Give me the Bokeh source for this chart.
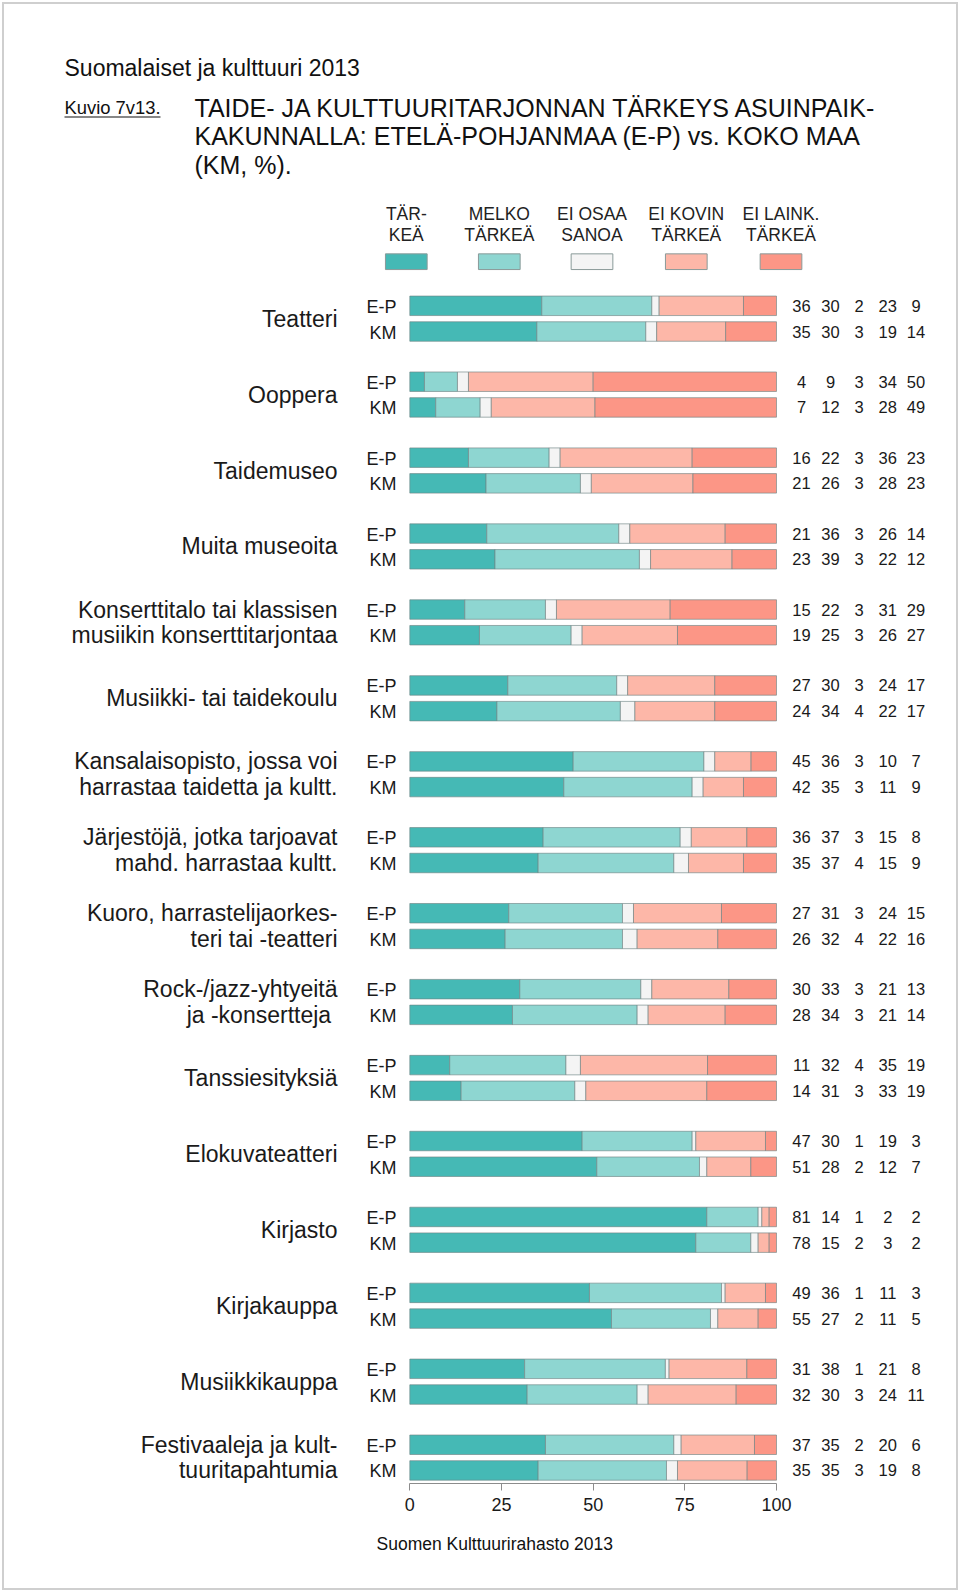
from bokeh.plotting import figure
from bokeh.models import ColumnDataSource, Range1d, FixedTicker, Title, InlineStyleSheet
from bokeh.core.properties import value
from bokeh.embed import file_html
from bokeh.resources import INLINE

# ---------------- data ----------------
groups = [
    "Teatteri", "Ooppera", "Taidemuseo", "Muita museoita",
    "Konserttitalo tai klassisen\nmusiikin konserttitarjontaa",
    "Musiikki- tai taidekoulu",
    "Kansalaisopisto, jossa voi\nharrastaa taidetta ja kultt.",
    "Järjestöjä, jotka tarjoavat\nmahd. harrastaa kultt.",
    "Kuoro, harrastelijaorkes-\nteri tai -teatteri",
    "Rock-/jazz-yhtyeitä\nja  -konsertteja",
    "Tanssiesityksiä", "Elokuvateatteri", "Kirjasto", "Kirjakauppa",
    "Musiikkikauppa", "Festivaaleja ja kult-\ntuuritapahtumia",
]
regions = ["E-P", "KM"]
categories = ["TÄR-\nKEÄ", "MELKO\nTÄRKEÄ", "EI OSAA\nSANOA", "EI KOVIN\nTÄRKEÄ", "EI LAINK.\nTÄRKEÄ"]

# E-P rows: tärkeä, melko tärkeä, ei osaa sanoa, ei kovin tärkeä, ei lainkaan tärkeä
tarkea_ep = [36, 4, 16, 21, 15, 27, 45, 36, 27, 30, 11, 47, 81, 49, 31, 37]
melko_ep  = [30, 9, 22, 36, 22, 30, 36, 37, 31, 33, 32, 30, 14, 36, 38, 35]
eos_ep    = [2, 3, 3, 3, 3, 3, 3, 3, 3, 3, 4, 1, 1, 1, 1, 2]
eikovin_ep = [23, 34, 36, 26, 31, 24, 10, 15, 24, 21, 35, 19, 2, 11, 21, 20]
eilaink_ep = [9, 50, 23, 14, 29, 17, 7, 8, 15, 13, 19, 3, 2, 3, 8, 6]
# KM rows
tarkea_km = [35, 7, 21, 23, 19, 24, 42, 35, 26, 28, 14, 51, 78, 55, 32, 35]
melko_km  = [30, 12, 26, 39, 25, 34, 35, 37, 32, 34, 31, 28, 15, 27, 30, 35]
eos_km    = [3, 3, 3, 3, 3, 4, 3, 4, 4, 3, 3, 2, 2, 2, 3, 3]
eikovin_km = [19, 28, 28, 22, 26, 22, 11, 15, 22, 21, 33, 12, 3, 11, 24, 19]
eilaink_km = [14, 49, 23, 12, 27, 17, 9, 9, 16, 14, 19, 7, 2, 5, 11, 8]

colors = ["#45b9b5", "#8ed6d1", "#f4f4f4", "#fdb7a8", "#fc9686"]
axis_ticks = [0, 25, 50, 75, 100]

# ---------------- layout (page pixels) ----------------
W, H = 960, 1592
X0_PX, PX_PER = 409.3, 3.667          # bar origin and px per percent
FRAME_BOTTOM = 1483

def X(px):   # page x -> data x (percent)
    return (px - X0_PX) / PX_PER

def Y(py):   # page y -> data y (px from top)
    return py

FIRST_ROW, GROUP_STEP, PAIR_GAP = 305.3, 75.93, 25.7
BAR_H = 19.5

p = figure(width=W, height=H, output_backend="svg", toolbar_location=None,
           x_range=Range1d(-X0_PX / PX_PER, (W - X0_PX) / PX_PER),
           y_range=Range1d(FRAME_BOTTOM, 0),
           min_border_left=0, min_border_right=0, min_border_top=0,
           min_border_bottom=H - FRAME_BOTTOM,
           y_axis_location=None, x_axis_location="below")
p.xgrid.visible = False
p.ygrid.visible = False
p.outline_line_color = None
p.background_fill_color = None
p.border_fill_color = None
p.styles = {"outline": "2px solid #cfcfcf", "outline-offset": "-4px"}
p.stylesheets = [InlineStyleSheet(css=":host { outline: 2px solid #cfcfcf; outline-offset: -4px; }")]

# ---------------- bars ----------------
rows_y, rows_vals = [], []
ep_rows = list(zip(tarkea_ep, melko_ep, eos_ep, eikovin_ep, eilaink_ep))
km_rows = list(zip(tarkea_km, melko_km, eos_km, eikovin_km, eilaink_km))
for i in range(len(groups)):
    ye = Y(FIRST_ROW + GROUP_STEP * i)
    rows_y += [ye, ye + PAIR_GAP]
    rows_vals += [ep_rows[i], km_rows[i]]

keys = ["c0", "c1", "c2", "c3", "c4"]
data = {"y": rows_y}
for k, key in enumerate(keys):
    data[key] = [v[k] / sum(v) * 100 for v in rows_vals]
src = ColumnDataSource(data)
p.hbar_stack(keys, y="y", height=BAR_H, color=colors, source=src,
             line_color="#6e8584", line_width=0.8, line_alpha=0.8)

FONT = value("Liberation Sans")

# numbers to the right of the bars
col_px = [801, 830, 858.7, 887.3, 915.5]
for k in range(5):
    p.text(x=[X(col_px[k])] * len(rows_y), y=rows_y,
           text=[str(v[k]) for v in rows_vals],
           text_font=FONT, text_font_size="16.5px", text_color="#1a1a1a",
           text_align="center", text_baseline="middle")

# E-P / KM labels
p.text(x=[X(396)] * len(rows_y), y=[y + 1 for y in rows_y],
       text=[regions[j % 2] for j in range(len(rows_y))],
       text_font=FONT, text_font_size="18px", text_color="#1a1a1a",
       text_align="right", text_baseline="middle")

# group labels
gy = [Y(FIRST_ROW + GROUP_STEP * i + PAIR_GAP / 2) for i in range(len(groups))]
p.text(x=[X(337)] * len(groups), y=gy, text=groups,
       text_font=FONT, text_font_size="23px", text_color="#1a1a1a",
       text_align="right", text_baseline="middle", text_line_height=0.99)

# ---------------- legend ----------------
leg_px = [405.8, 498.8, 591.5, 685.8, 780.5]
p.text(x=[X(v) for v in leg_px], y=[Y(224)] * 5, text=categories,
       text_font=FONT, text_font_size="17.5px", text_color="#222222",
       text_align="center", text_baseline="middle", text_line_height=1.02)
p.rect(x=[X(v) for v in leg_px], y=[Y(261.2)] * 5, width=41.7 / PX_PER, height=15.7,
       fill_color=colors, line_color="#8a9a99", line_width=1)

# ---------------- titles ----------------
p.text(x=[X(64)], y=[Y(67)], text=["Suomalaiset ja kulttuuri 2013"],
       text_font=FONT, text_font_size="23px", text_color="#111111",
       text_baseline="middle")
p.text(x=[X(64)], y=[Y(107)], text=["Kuvio 7v13."],
       text_font=FONT, text_font_size="18.4px", text_color="#111111",
       text_baseline="middle")
p.segment(x0=[X(64)], x1=[X(160)], y0=[Y(116.5)], y1=[Y(116.5)],
          line_color="#111111", line_width=1.2)
p.text(x=[X(194)] * 3, y=[Y(107), Y(135.5), Y(164.5)],
       text=["TAIDE- JA KULTTUURITARJONNAN TÄRKEYS ASUINPAIK-",
             "KAKUNNALLA: ETELÄ-POHJANMAA (E-P) vs. KOKO MAA",
             "(KM, %)."],
       text_font=FONT, text_font_size="25px", text_color="#111111",
       text_baseline="middle")

# ---------------- axis ----------------
ax = p.xaxis[0]
ax.ticker = FixedTicker(ticks=axis_ticks)
ax.bounds = (0, 100)
ax.axis_line_color = "#8c8c8c"
ax.major_tick_line_color = "#8c8c8c"
ax.major_tick_out = 7
ax.major_tick_in = 0
ax.minor_tick_line_color = None
ax.major_label_text_font = "Liberation Sans"
ax.major_label_text_font_size = "18px"
ax.major_label_text_color = "#1a1a1a"
ax.major_label_standoff = 7

p.add_layout(Title(text="Suomen Kulttuurirahasto 2013", align="left", offset=376,
                   text_font="Liberation Sans", text_font_size="17.5px",
                   text_font_style="normal", text_color="#111111", standoff=36),
             "below")

open("out.html", "w").write(file_html(p, INLINE))
